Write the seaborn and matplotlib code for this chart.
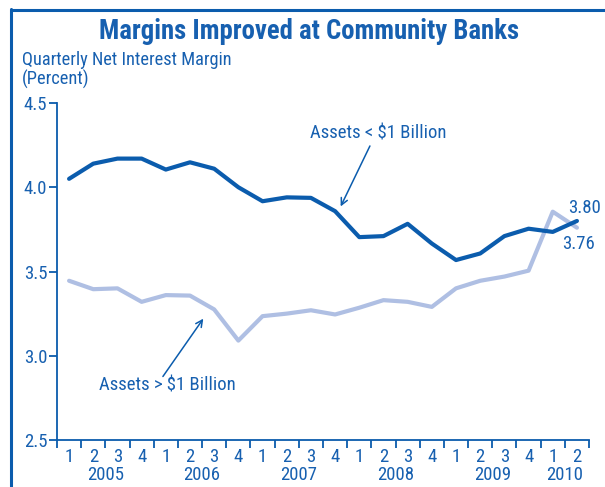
import matplotlib
matplotlib.use("Agg")
import matplotlib.pyplot as plt
import matplotlib.transforms as mtransforms
import seaborn as sns
import pandas as pd
import numpy as np

quarters = ["1", "2", "3", "4"] * 5 + ["1", "2"]
years = ["2005", "2006", "2007", "2008", "2009", "2010"]
small_banks = [4.05, 4.14, 4.17, 4.17, 4.105, 4.148, 4.11, 4.00, 3.917, 3.94, 3.937,
               3.858, 3.704, 3.71, 3.783, 3.666, 3.568, 3.607, 3.71, 3.754, 3.735, 3.80]
large_banks = [3.445, 3.395, 3.40, 3.32, 3.36, 3.357, 3.275, 3.09, 3.235, 3.25, 3.27,
               3.245, 3.285, 3.33, 3.32, 3.29, 3.40, 3.445, 3.47, 3.505, 3.855, 3.76]
yticks = [2.5, 3.0, 3.5, 4.0, 4.5]

sns.set_theme(style="white")
cond = ["Liberation Sans Narrow", "Roboto Condensed", "DejaVu Sans"]
plt.rcParams["font.family"] = cond

DARK = "#0B5CAD"
LIGHT = "#AFBFE3"
TXT = "#1760B0"
FS = 13.5

n = len(small_banks)
df = pd.DataFrame({
    "x": list(range(n)) * 2,
    "value": small_banks + large_banks,
    "series": ["Assets < $1 Billion"] * n + ["Assets > $1 Billion"] * n,
})

fig = plt.figure(figsize=(6.05, 4.87), dpi=100)
ax = fig.add_axes([0.0942, 0.0965, 0.8794, 0.692])
sns.lineplot(data=df, x="x", y="value", hue="series",
             palette={"Assets < $1 Billion": DARK, "Assets > $1 Billion": LIGHT},
             hue_order=["Assets > $1 Billion", "Assets < $1 Billion"],
             linewidth=3.0, legend=False, ax=ax)

ax.set_xlim(-0.5, n - 0.5)
ax.set_ylim(2.5, 4.5)
ax.set_xlabel("")
ax.set_ylabel("")
for s in ["top", "right"]:
    ax.spines[s].set_visible(False)
for s in ["left", "bottom"]:
    ax.spines[s].set_color(DARK)
    ax.spines[s].set_linewidth(1.3)

ax.set_yticks(yticks)
ax.set_yticklabels([f"{v:.1f}" for v in yticks], color=TXT, fontsize=FS)
ax.tick_params(axis="y", length=6, width=1.3, color=DARK, pad=1, left=True)

ax.set_xticks(np.arange(-0.5, n, 1.0))
ax.set_xticklabels([])
ax.tick_params(axis="x", which="major", length=6, width=1.3, color=DARK, bottom=True)
ax.set_xticks(np.arange(n), minor=True)
ax.set_xticklabels(quarters, minor=True, color=TXT, fontsize=FS)
ax.tick_params(axis="x", which="minor", length=0, pad=6)

trans = mtransforms.blended_transform_factory(ax.transData, ax.transAxes)
for i, y in enumerate(years):
    start = i * 4
    end = min(start + 3, n - 1)
    ax.text((start + end) / 2, -0.104, y, transform=trans, ha="center", va="center",
            color=TXT, fontsize=FS)

# annotations
arrow = dict(arrowstyle="->", color=DARK, lw=1.1, shrinkA=0, shrinkB=0)
ax.text(12.8, 4.32, "Assets < $1 Billion", ha="center", va="center", color=TXT, fontsize=FS)
ax.annotate("", xy=(11.23, 3.886), xytext=(12.44, 4.245), arrowprops=arrow)
ax.text(4.05, 2.823, "Assets > $1 Billion", ha="center", va="center", color=TXT, fontsize=FS)
ax.annotate("", xy=(5.55, 3.22), xytext=(3.88, 2.877), arrowprops=arrow)
ax.text(n - 1 - 0.38, small_banks[-1] + 0.025, f"{small_banks[-1]:.2f}", color=TXT,
        fontsize=FS, ha="left", va="bottom")
ax.text(n - 1 - 0.62, large_banks[-1] - 0.045, f"{large_banks[-1]:.2f}", color=TXT,
        fontsize=FS, ha="left", va="top")

# title and subtitle
fig.text(0.511, 0.935, "Margins Improved at Community Banks", ha="center", va="center",
         color=TXT, fontsize=19.3, fontweight="bold")
fig.text(0.036, 0.876, "Quarterly Net Interest Margin", ha="left", va="center",
         color=TXT, fontsize=13.2)
fig.text(0.036, 0.836, "(Percent)", ha="left", va="center", color=TXT, fontsize=13.2)

# frame
fig.add_artist(plt.Line2D([0.0185, 0.0185], [0.0, 0.981], transform=fig.transFigure,
                          color=DARK, lw=2.2))
fig.add_artist(plt.Line2D([0.0175, 1.0], [0.979, 0.979], transform=fig.transFigure,
                          color=DARK, lw=2.2))

fig.savefig("out.png", dpi=100)
